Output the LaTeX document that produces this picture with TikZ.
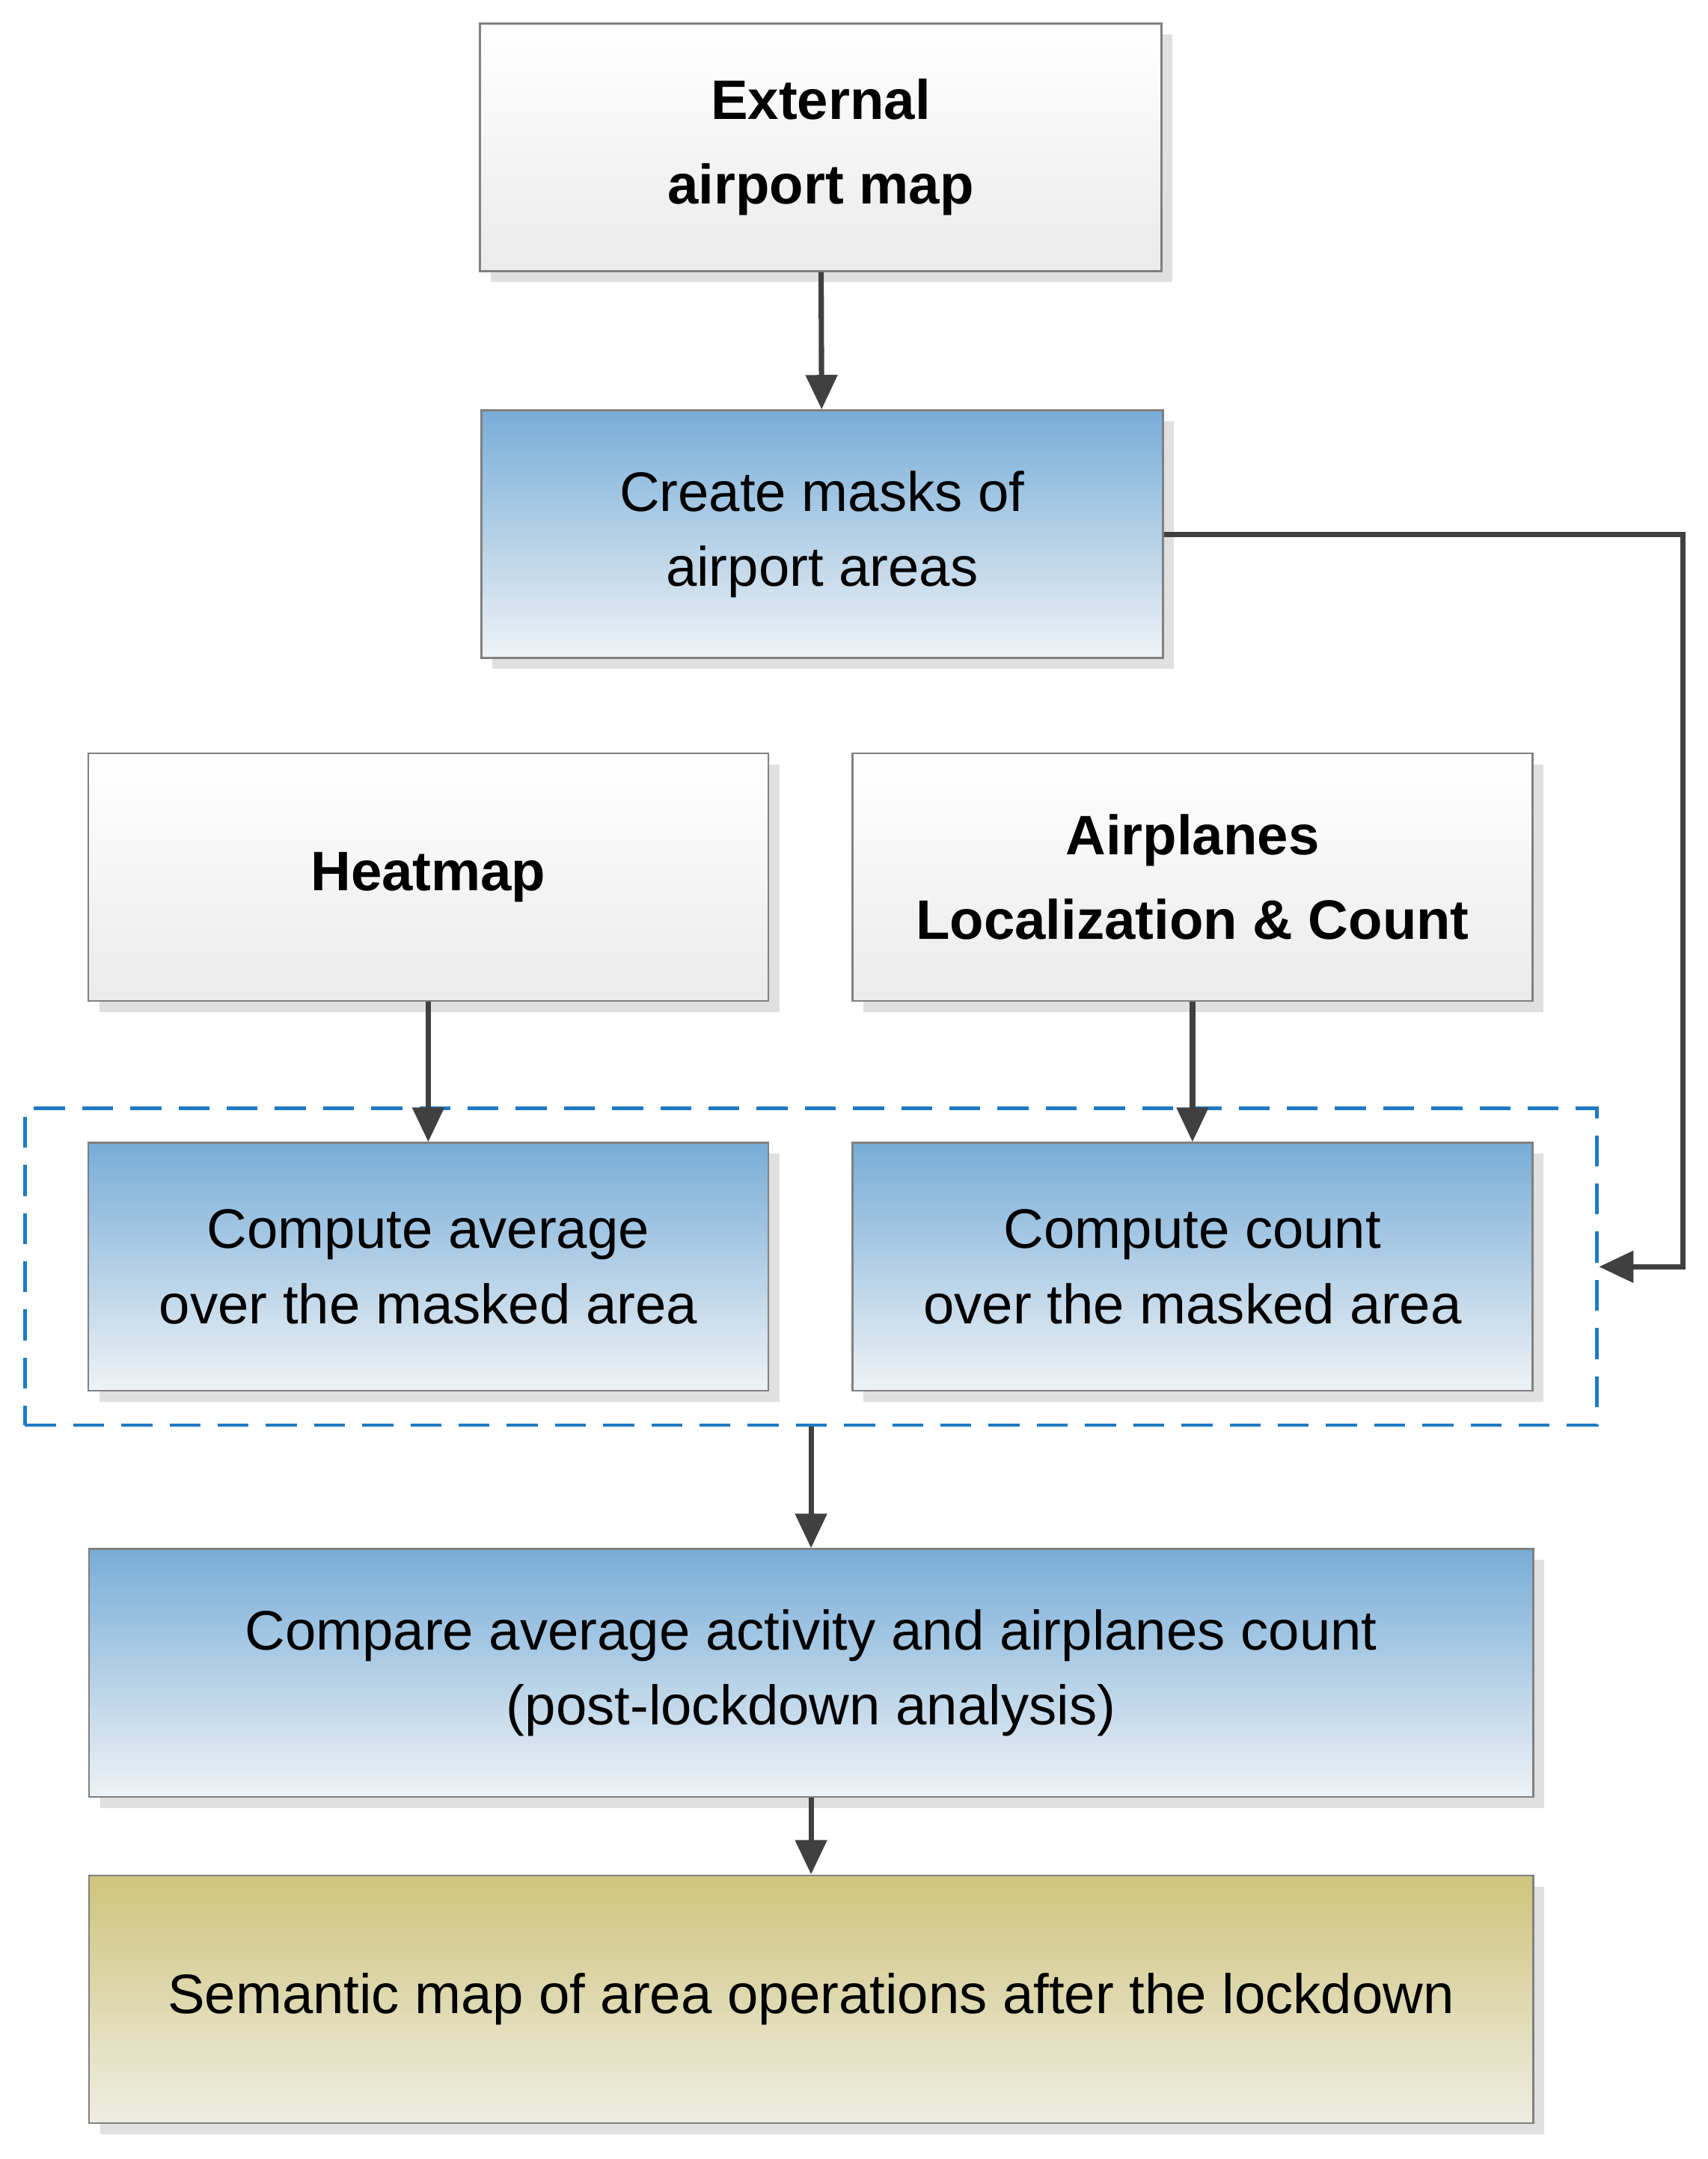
\documentclass[tikz,border=0pt]{standalone}
\usepackage{fontspec}
\setmainfont{Liberation Sans}
\usetikzlibrary{arrows.meta, positioning, fit, shadows}
\definecolor{boxline}{HTML}{808080}
\definecolor{arrowgray}{HTML}{404040}
\definecolor{bluetop}{HTML}{78ADD8}
\definecolor{bluebot}{HTML}{EEF2F5}
\definecolor{olivetop}{HTML}{CFC47C}
\definecolor{olivebot}{HTML}{EEEDE2}
\definecolor{dashblue}{HTML}{1F7AC4}
\begin{document}
\begin{tikzpicture}[x=0.02cm, y=-0.02cm,
    every node/.style={align=center, font=\fontsize{23}{31}\selectfont},
    box/.style={draw=boxline, line width=0.8pt, minimum height=3.6cm, inner sep=0pt,
        drop shadow={shadow xshift=0.16cm, shadow yshift=-0.16cm, fill=black!12, opacity=1}},
    grey/.style={box, top color=white, bottom color=black!8, font=\fontsize{23}{31}\selectfont\bfseries},
    blue/.style={box, top color=bluetop, bottom color=bluebot},
    olive/.style={box, top color=olivetop, bottom color=olivebot},
    arrow/.style={-{Triangle[length=0.5cm, width=0.45cm]}, arrowgray, line width=2.2pt}
]
\useasboundingbox (0,0) rectangle (1240,1568);

% Top
\node[grey, minimum width=9.9cm] (ext) at (596,107) {External\\[4pt] airport map};
\node[blue, minimum width=9.9cm] (masks) at (597,388) {Create masks of\\ airport areas};

% Inputs
\node[grey, minimum width=9.88cm] (heat) at (311,637) {Heatmap};
\node[grey, minimum width=9.88cm] (planes) at (866,637) {Airplanes\\[4pt] Localization \& Count};

% Masked computations
\node[blue, minimum width=9.88cm] (avg) at (311,920) {Compute average\\ over the masked area};
\node[blue, minimum width=9.88cm] (cnt) at (866,920) {Compute count\\ over the masked area};
\node[draw=dashblue, dashed, line width=1.5pt, dash pattern=on 0.45cm off 0.25cm,
    minimum width=22.84cm, minimum height=4.6cm] (grp) at (589,920) {};

% Output
\node[blue, minimum width=20.98cm] (cmp) at (589,1215) {Compare average activity and airplanes count\\ (post-lockdown analysis)};
\node[olive, minimum width=20.98cm] (sem) at (589,1452) {Semantic map of area operations after the lockdown};

\coordinate (corner) at (1222,388);

\draw[arrow] (ext) -- (masks);
\draw[arrow] (masks.east) -- (corner) |- (grp.east);
\draw[arrow] (heat) -- (avg);
\draw[arrow] (planes) -- (cnt);
\draw[arrow] (grp) -- (cmp);
\draw[arrow] (cmp) -- (sem);

\end{tikzpicture}
\end{document}
